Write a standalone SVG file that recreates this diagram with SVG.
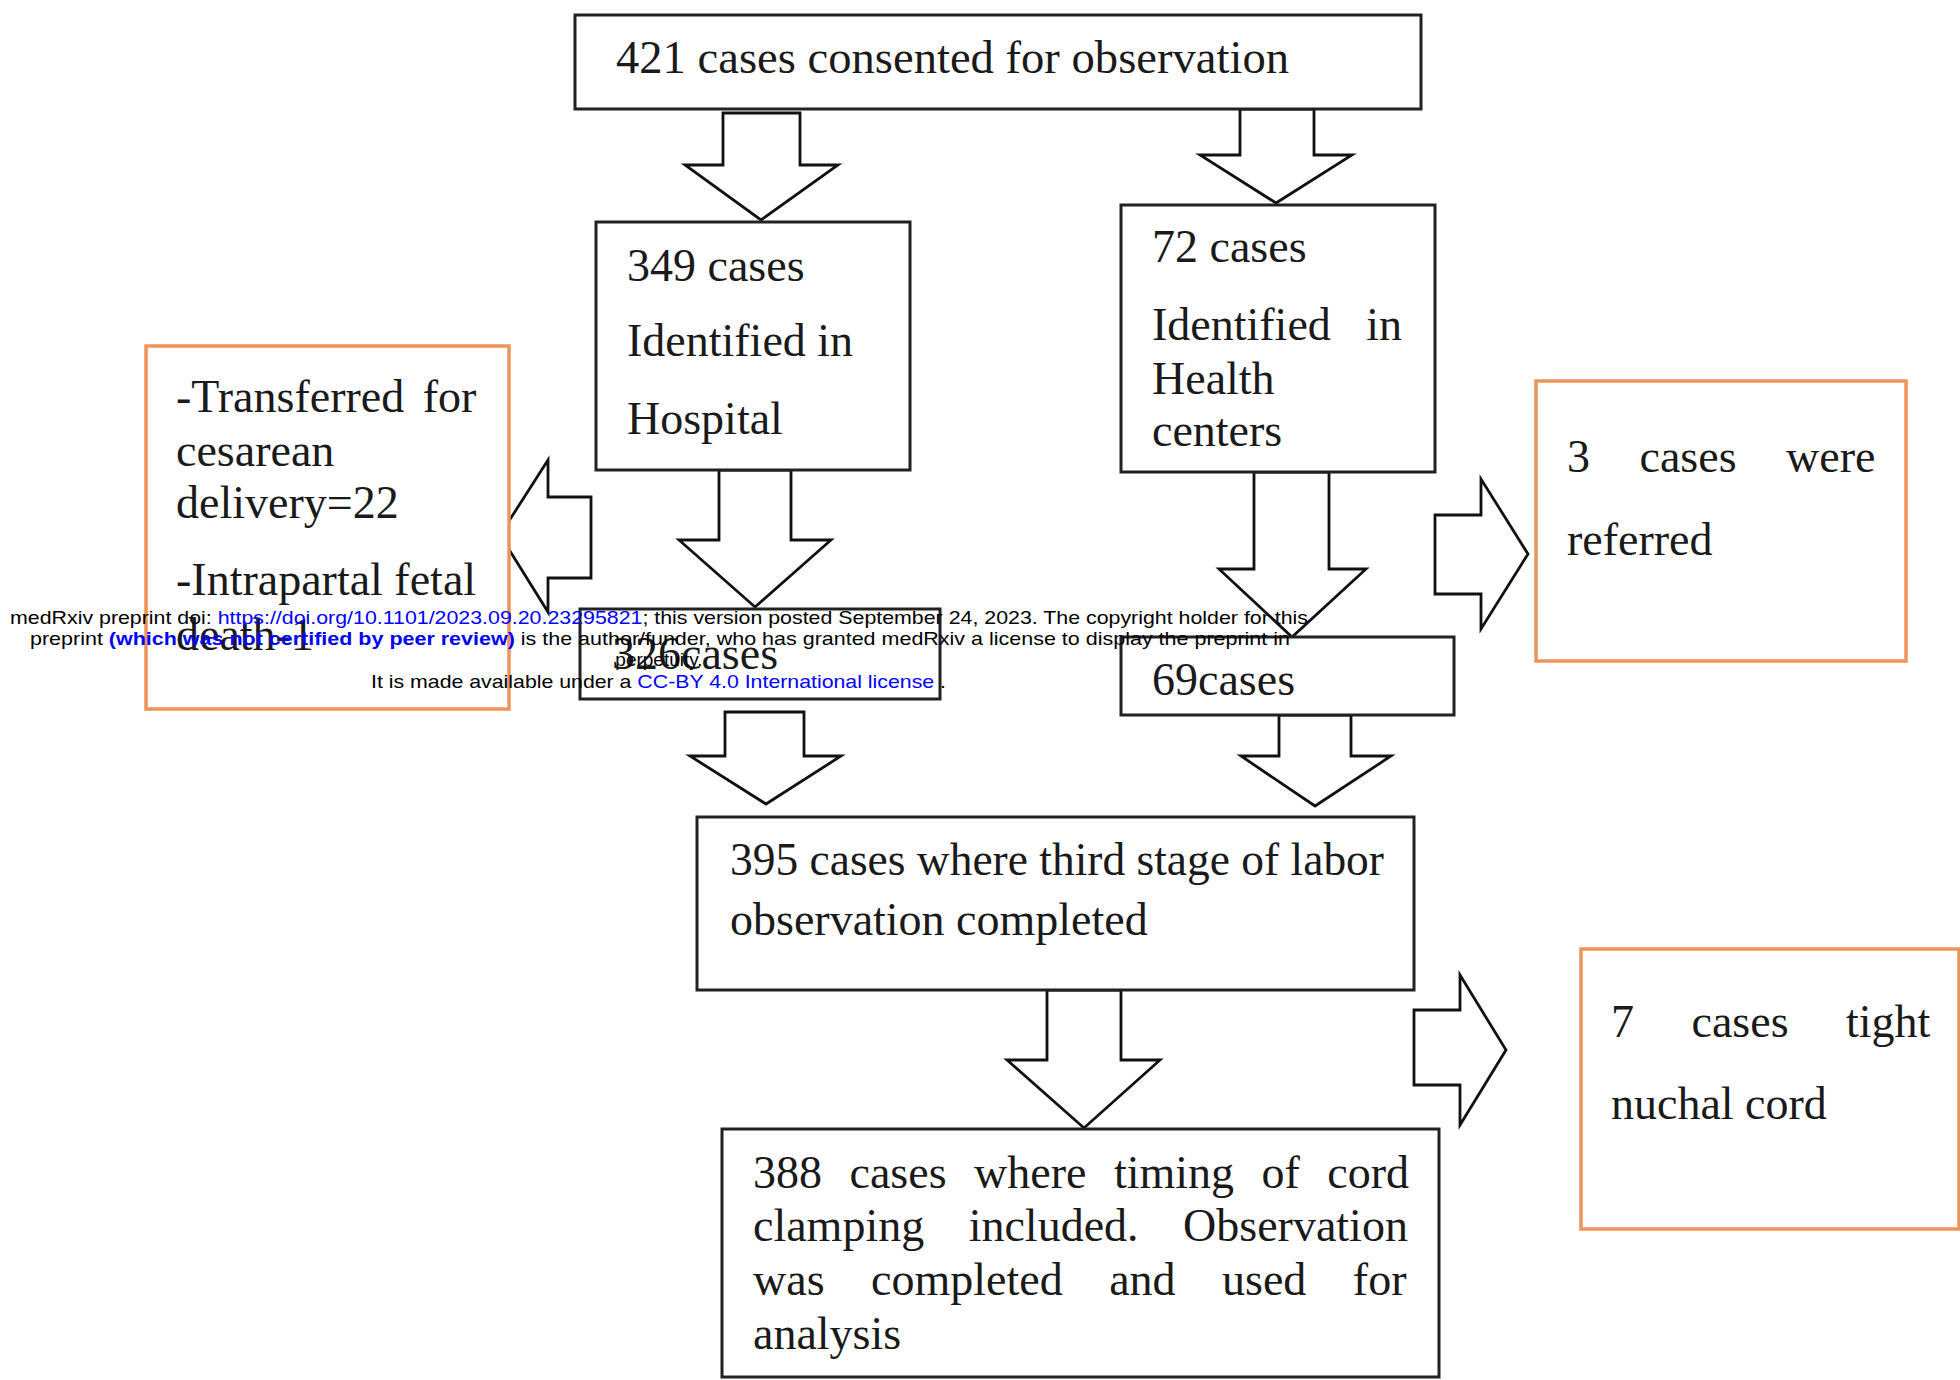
<svg xmlns="http://www.w3.org/2000/svg" width="1960" height="1380" viewBox="0 0 1960 1380">
<style>
.box{fill:#fff;stroke:#222;stroke-width:3}
.obox{fill:#fff;stroke:#EC945A;stroke-width:3.5}
.arr{fill:#fff;stroke:#111;stroke-width:2.8;stroke-linejoin:miter}
.t{font-family:"Liberation Serif","Times New Roman",serif;font-size:46px;fill:#1a1a1a}
.w{font-family:"Liberation Sans",Arial,sans-serif;font-size:19px;fill:#000}
.lnk{fill:#0000FF}
.bl{fill:#0000FF;font-weight:bold}
</style>
<rect width="1960" height="1380" fill="#fff"/>
<g id="connectors">
<polygon class="arr" points="723,113 800,113 800,165 838,165 761,220 685,165 723,165"/>
<polygon class="arr" points="1240,109 1314,109 1314,155 1352,155 1276,203 1200,155 1240,155"/>
<polygon class="arr" points="719,470 791,470 791,540 831,540 755,607 679,540 719,540"/>
<polygon class="arr" points="1254,472 1329,472 1329,569 1366,569 1292,637 1219,569 1254,569"/>
<polygon class="arr" points="725,712 804,712 804,756 841,756 766,804 690,756 725,756"/>
<polygon class="arr" points="1279,715 1351,715 1351,756 1391,756 1315,806 1241,756 1279,756"/>
<polygon class="arr" points="1047,990 1121,990 1121,1060 1160,1060 1084,1128 1007,1060 1047,1060"/>
<polygon class="arr" points="591,497 548,497 548,460 500,535 548,612 548,578 591,578"/>
<polygon class="arr" points="1435,515 1481,515 1481,479 1528,554 1481,629 1481,594 1435,594"/>
<polygon class="arr" points="1414,1010 1460,1010 1460,975 1506,1050 1460,1125 1460,1085 1414,1085"/>
</g>
<g id="n421">
<rect class="box" x="575" y="15" width="846" height="94"/>
<text class="t" x="616" y="73" textLength="673" lengthAdjust="spacingAndGlyphs">421 cases consented for observation</text>
</g>
<g id="n349">
<rect class="box" x="596" y="222" width="314" height="248"/>
<text class="t" x="627" y="281">349 cases</text>
<text class="t" x="627" y="356">Identified in</text>
<text class="t" x="627" y="434">Hospital</text>
</g>
<g id="n72">
<rect class="box" x="1121" y="205" width="314" height="267"/>
<text class="t" x="1152" y="262">72 cases</text>
<text class="t" x="1152" y="340" word-spacing="24">Identified in</text>
<text class="t" x="1152" y="394">Health</text>
<text class="t" x="1152" y="446">centers</text>
</g>
<g id="nTransferred">
<rect class="obox" x="146" y="346" width="363" height="363"/>
<text class="t" x="176" y="412" word-spacing="7">-Transferred for</text>
<text class="t" x="176" y="466">cesarean</text>
<text class="t" x="176" y="518">delivery=22</text>
<text class="t" x="176" y="595">-Intrapartal fetal</text>
<text class="t" x="176" y="650">death-1</text>
</g>
<g id="n326">
<rect class="box" x="580" y="609" width="360" height="90"/>
<text class="t" x="612" y="669">326cases</text>
</g>
<g id="n69">
<rect class="box" x="1121" y="637" width="333" height="78"/>
<text class="t" x="1152" y="695">69cases</text>
</g>
<g id="nReferred">
<rect class="obox" x="1536" y="381" width="370" height="280"/>
<text class="t" x="1567" y="472" word-spacing="38">3 cases were</text>
<text class="t" x="1567" y="555">referred</text>
</g>
<g id="n395">
<rect class="box" x="697" y="817" width="717" height="173"/>
<text class="t" x="730" y="875" textLength="654" lengthAdjust="spacingAndGlyphs">395 cases where third stage of labor</text>
<text class="t" x="730" y="935">observation completed</text>
</g>
<g id="n388">
<rect class="box" x="722" y="1129" width="717" height="248"/>
<text class="t" x="753" y="1188" word-spacing="16">388 cases where timing of cord</text>
<text class="t" x="753" y="1241" word-spacing="33">clamping included. Observation</text>
<text class="t" x="753" y="1295" word-spacing="35">was completed and used for</text>
<text class="t" x="753" y="1349">analysis</text>
</g>
<g id="nNuchal">
<rect class="obox" x="1581" y="949" width="378" height="280"/>
<text class="t" x="1611" y="1037" word-spacing="46">7 cases tight</text>
<text class="t" x="1611" y="1119">nuchal cord</text>
</g>
<g id="watermark">
<text class="w" x="10" y="624" textLength="1298" lengthAdjust="spacingAndGlyphs">medRxiv preprint doi: <tspan class="lnk">https://doi.org/10.1101/2023.09.20.23295821</tspan>; this version posted September 24, 2023. The copyright holder for this</text>
<text class="w" x="30" y="645" textLength="1260" lengthAdjust="spacingAndGlyphs">preprint  <tspan class="bl">(which was not certified by peer review)</tspan> is the author/funder, who has granted medRxiv a license to display the preprint in</text>
<text class="w" x="659" y="666" text-anchor="middle">perpetuity.</text>
<text class="w" x="371" y="688" textLength="575" lengthAdjust="spacingAndGlyphs">It is made available under a <tspan class="lnk">CC-BY 4.0 International license</tspan> .</text>
</g>
</svg>
